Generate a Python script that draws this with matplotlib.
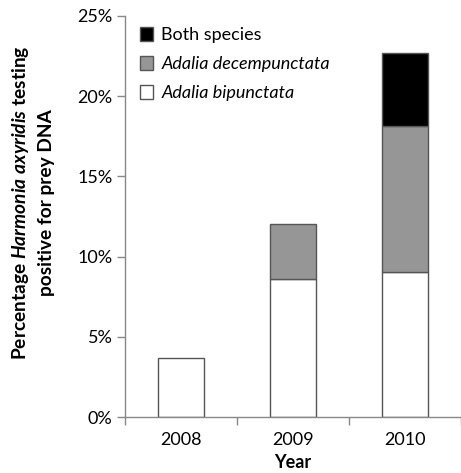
import matplotlib
matplotlib.use("Agg")
import matplotlib.pyplot as plt
from matplotlib.patches import Patch

years = ["2008", "2009", "2010"]
bipunctata = [3.7, 8.6, 9.05]
decempunctata = [0.0, 3.45, 9.1]
both = [0.0, 0.0, 4.55]
yticks = [0, 5, 10, 15, 20, 25]
ytick_labels = ["0%", "5%", "10%", "15%", "20%", "25%"]

plt.rcParams['font.family'] = ['Lato', 'DejaVu Sans']
plt.rcParams['mathtext.fontset'] = 'custom'
plt.rcParams['mathtext.rm'] = 'Lato:bold'
plt.rcParams['mathtext.bf'] = 'Lato:bold'
plt.rcParams['mathtext.it'] = 'Lato:italic:bold'
plt.rcParams['mathtext.bfit'] = 'Lato:italic:bold'

FS = 13
W, H = 461, 473
fig = plt.figure(figsize=(W / 100, H / 100), dpi=100)
ax = fig.add_axes([125 / W, 56 / H, (461 - 125) / W, (417 - 16) / H])

x = list(range(len(years)))
ec = "#555555"
bw = 0.41
ax.bar(x, bipunctata, width=bw, color="white", edgecolor=ec, linewidth=1)
for i in x:
    if decempunctata[i] > 0:
        ax.bar(i, decempunctata[i], bottom=bipunctata[i], width=bw,
               color="#969696", edgecolor=ec, linewidth=1)
    if both[i] > 0:
        ax.bar(i, both[i], bottom=bipunctata[i] + decempunctata[i], width=bw,
               color="black", edgecolor=ec, linewidth=1)

ax.set_xlim(-0.5, 2.47)
ax.set_ylim(0, 25)
ax.set_yticks(yticks)
ax.set_yticklabels(ytick_labels, fontsize=FS)
ax.set_xticks([-0.5, 0.5, 1.5, 2.5])
ax.set_xticklabels([])
ax.set_xticks(x, minor=True)
ax.set_xticklabels(years, minor=True, fontsize=FS)
ax.tick_params(axis='x', which='minor', length=0, pad=11)
ax.tick_params(axis='x', which='major', length=6, color="#888888", width=1)
ax.tick_params(axis='y', length=6, color="#888888", width=1, pad=3)
for s in ["top", "right"]:
    ax.spines[s].set_visible(False)
for s in ["left", "bottom"]:
    ax.spines[s].set_color("#888888")
    ax.spines[s].set_linewidth(1)

ax.set_xlabel("Year", fontsize=FS, fontweight="bold", labelpad=4)

fig.text(21 / W, 1 - 203 / H, "Percentage $\\mathit{Harmonia\\ axyridis}$ testing",
         rotation=90, ha="center", va="center", fontsize=13.8, fontweight="bold")
fig.text(47 / W, 1 - 203 / H, "positive for prey DNA",
         rotation=90, ha="center", va="center", fontsize=13.8, fontweight="bold")

handles = [Patch(facecolor="black", edgecolor=ec),
           Patch(facecolor="#969696", edgecolor=ec),
           Patch(facecolor="white", edgecolor=ec)]
labels = ["Both species", "Adalia decempunctata", "Adalia bipunctata"]
leg = ax.legend(handles, labels, loc="upper left", bbox_to_anchor=(0.022, 0.99),
                frameon=False, fontsize=FS, handlelength=0.75, handleheight=0.75,
                handletextpad=0.45, labelspacing=0.72, borderaxespad=0.0)
for i, t in enumerate(leg.get_texts()):
    if i > 0:
        t.set_style("italic")

fig.savefig("out.png", dpi=100)
